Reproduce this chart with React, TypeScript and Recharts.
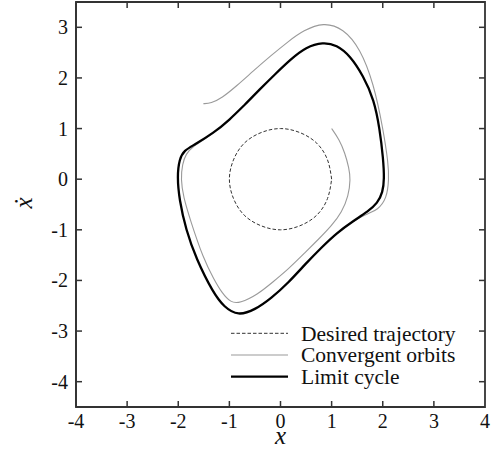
import { Label, Legend, Line, LineChart, XAxis, YAxis } from "recharts";

// phase-plane samples (x, x-dot)
const desiredTrajectory = [
  { x: 1.0, v: 0.0 },
  { x: 0.92, v: 0.38 },
  { x: 0.71, v: 0.71 },
  { x: 0.38, v: 0.92 },
  { x: 0.0, v: 1.0 },
  { x: -0.38, v: 0.92 },
  { x: -0.71, v: 0.71 },
  { x: -0.92, v: 0.38 },
  { x: -1.0, v: 0.0 },
  { x: -0.92, v: -0.38 },
  { x: -0.71, v: -0.71 },
  { x: -0.38, v: -0.92 },
  { x: 0.0, v: -1.0 },
  { x: 0.38, v: -0.92 },
  { x: 0.71, v: -0.71 },
  { x: 0.92, v: -0.38 },
  { x: 1.0, v: 0.0 },
];

const outerOrbit = [
  { x: -1.51, v: 1.49 },
  { x: -1.36, v: 1.5 },
  { x: -1.15, v: 1.6 },
  { x: -0.86, v: 1.84 },
  { x: -0.53, v: 2.14 },
  { x: -0.2, v: 2.43 },
  { x: 0.15, v: 2.72 },
  { x: 0.45, v: 2.94 },
  { x: 0.84, v: 3.1 },
  { x: 1.23, v: 2.98 },
  { x: 1.56, v: 2.58 },
  { x: 1.82, v: 1.9 },
  { x: 2.01, v: 0.98 },
  { x: 2.11, v: 0.3 },
  { x: 2.12, v: 0.0 },
  { x: 2.08, v: -0.38 },
  { x: 1.9, v: -0.61 },
  { x: 1.7, v: -0.68 },
  { x: 1.43, v: -0.83 },
];

const innerOrbit = [
  { x: 1.0, v: 1.0 },
  { x: 1.15, v: 0.78 },
  { x: 1.26, v: 0.52 },
  { x: 1.34, v: 0.22 },
  { x: 1.37, v: 0.0 },
  { x: 1.33, v: -0.33 },
  { x: 1.2, v: -0.65 },
  { x: 1.0, v: -0.92 },
  { x: 0.75, v: -1.18 },
  { x: 0.48, v: -1.45 },
  { x: 0.15, v: -1.78 },
  { x: -0.15, v: -2.03 },
  { x: -0.45, v: -2.28 },
  { x: -0.8, v: -2.45 },
  { x: -0.97, v: -2.44 },
  { x: -1.15, v: -2.24 },
  { x: -1.3, v: -1.98 },
  { x: -1.51, v: -1.57 },
  { x: -1.77, v: -0.79 },
  { x: -1.9, v: -0.35 },
  { x: -1.95, v: 0.0 },
  { x: -1.92, v: 0.3 },
  { x: -1.85, v: 0.5 },
  { x: -1.72, v: 0.64 },
  { x: -1.5, v: 0.78 },
  { x: -1.31, v: 0.92 },
];

const limitCycle = [
  { x: -0.7, v: 1.47 },
  { x: -0.4, v: 1.78 },
  { x: -0.1, v: 2.08 },
  { x: 0.2, v: 2.37 },
  { x: 0.5, v: 2.61 },
  { x: 0.83, v: 2.71 },
  { x: 1.1, v: 2.65 },
  { x: 1.36, v: 2.44 },
  { x: 1.62, v: 2.04 },
  { x: 1.83, v: 1.57 },
  { x: 1.94, v: 1.0 },
  { x: 2.01, v: 0.4 },
  { x: 2.03, v: 0.0 },
  { x: 2.0, v: -0.26 },
  { x: 1.9, v: -0.47 },
  { x: 1.71, v: -0.64 },
  { x: 1.43, v: -0.82 },
  { x: 1.1, v: -1.06 },
  { x: 0.8, v: -1.35 },
  { x: 0.5, v: -1.66 },
  { x: 0.15, v: -2.05 },
  { x: -0.18, v: -2.35 },
  { x: -0.5, v: -2.58 },
  { x: -0.83, v: -2.7 },
  { x: -1.1, v: -2.53 },
  { x: -1.32, v: -2.24 },
  { x: -1.65, v: -1.57 },
  { x: -1.85, v: -1.0 },
  { x: -1.98, v: -0.4 },
  { x: -2.02, v: 0.05 },
  { x: -1.98, v: 0.4 },
  { x: -1.88, v: 0.57 },
  { x: -1.7, v: 0.67 },
  { x: -1.3, v: 0.92 },
  { x: -1.0, v: 1.17 },
  { x: -0.7, v: 1.47 },
];

const X_DOMAIN: [number, number] = [-4, 4];
const Y_DOMAIN: [number, number] = [-4.5, 3.5];
const xTicks = [-4, -3, -2, -1, 0, 1, 2, 3, 4];
const yTicks = [-4, -3, -2, -1, 0, 1, 2, 3];
const innerXTicks = [-3, -2, -1, 0, 1, 2, 3];

const CHART_W = 494;
const CHART_H = 459;
const MARGIN = { top: 2, right: 9, bottom: 22, left: 16 };
const Y_AXIS_W = 60;
const X_AXIS_H = 30;
const PLOT_W = CHART_W - MARGIN.left - Y_AXIS_W - MARGIN.right;

const FONT = '"Liberation Serif", "Times New Roman", serif';
const FRAME = "#333";
const TICK_LEN = 6;

const legendRows = [
  { name: "Desired trajectory", stroke: "#333", width: 1, dash: "3.5 2" },
  { name: "Convergent orbits", stroke: "#9a9a9a", width: 1.1, dash: undefined },
  { name: "Limit cycle", stroke: "#000", width: 2.3, dash: undefined },
];

const BottomTick = (props: any) => {
  const { x, y, payload } = props;
  return (
    <text x={x} y={y} dy="0.74em" textAnchor="middle" fontSize={20} style={{ fontFamily: FONT }} fill="#111">
      {payload.value}
    </text>
  );
};

const LeftTick = (props: any) => {
  const { x, y, payload } = props;
  return (
    <text x={x} y={y} dy="0.35em" textAnchor="end" fontSize={20} style={{ fontFamily: FONT }} fill="#111">
      {payload.value}
    </text>
  );
};

const XTitle = (props: any) => {
  const vb = props.viewBox;
  return (
    <text
      x={vb.x + vb.width / 2}
      y={vb.y + 37}
      textAnchor="middle"
      fontSize={25}
      fontStyle="italic"
      style={{ fontFamily: FONT }}
      fill="#111"
    >
      x
    </text>
  );
};

// y-axis title plus the closed box and its inward ticks on all four sides
const YTitleAndFrame = (props: any) => {
  const vb = props.viewBox;
  const left = vb.x + vb.width;
  const top = vb.y;
  const h = vb.height;
  const right = left + PLOT_W;
  const bottom = top + h;
  const px = (t: number) => left + ((t - X_DOMAIN[0]) / (X_DOMAIN[1] - X_DOMAIN[0])) * PLOT_W;
  const py = (t: number) => bottom - ((t - Y_DOMAIN[0]) / (Y_DOMAIN[1] - Y_DOMAIN[0])) * h;
  const tx = vb.x + 16;
  const ty = top + h / 2 - 1.5;
  return (
    <g>
      <path
        d={`M${left},${top}H${right}V${bottom}H${left}Z`}
        fill="none"
        stroke={FRAME}
        strokeWidth={1.8}
      />
      {innerXTicks.map((t) => (
        <g key={`xt${t}`}>
          <path d={`M${px(t)},${bottom}v${-TICK_LEN}`} stroke={FRAME} strokeWidth={1.5} />
          <path d={`M${px(t)},${top}v${TICK_LEN}`} stroke={FRAME} strokeWidth={1.5} />
        </g>
      ))}
      {yTicks.map((t) => (
        <g key={`yt${t}`}>
          <path d={`M${left},${py(t)}h${TICK_LEN}`} stroke={FRAME} strokeWidth={1.5} />
          <path d={`M${right},${py(t)}h${-TICK_LEN}`} stroke={FRAME} strokeWidth={1.5} />
        </g>
      ))}
      <text
        x={tx}
        y={ty}
        transform={`rotate(-90, ${tx}, ${ty})`}
        textAnchor="middle"
        fontSize={25}
        fontStyle="italic"
        style={{ fontFamily: FONT }}
        fill="#111"
      >
        {"x\u0307"}
      </text>
    </g>
  );
};

const PhaseLegend = () => (
  <svg width={250} height={70} style={{ display: "block" }}>
    {legendRows.map((row, i) => {
      const cy = 13.3 + i * 21.7;
      return (
        <g key={row.name}>
          <line
            x1={0}
            x2={57}
            y1={cy}
            y2={cy}
            stroke={row.stroke}
            strokeWidth={row.width}
            strokeDasharray={row.dash}
          />
          <text x={70} y={cy + 7.4} fontSize={21.5} style={{ fontFamily: FONT }} fill="#111">
            {row.name}
          </text>
        </g>
      );
    })}
  </svg>
);

export default function App() {
  return (
    <div style={{ position: "absolute", left: 0, top: 0 }}>
      <LineChart width={CHART_W} height={CHART_H} margin={MARGIN}>
        <XAxis
          type="number"
          dataKey="x"
          domain={X_DOMAIN}
          ticks={xTicks}
          interval={0}
          height={X_AXIS_H}
          tickSize={0}
          tickMargin={6}
          tickLine={false}
          axisLine={{ stroke: FRAME, strokeWidth: 1.8 }}
          tick={<BottomTick />}
        >
          <Label content={<XTitle />} />
        </XAxis>
        <YAxis
          type="number"
          dataKey="v"
          domain={Y_DOMAIN}
          ticks={yTicks}
          interval={0}
          width={Y_AXIS_W}
          tickSize={0}
          tickMargin={8}
          tickLine={false}
          axisLine={{ stroke: FRAME, strokeWidth: 1.8 }}
          tick={<LeftTick />}
        >
          <Label content={<YTitleAndFrame />} />
        </YAxis>
        <Legend
          layout="horizontal"
          verticalAlign="middle"
          align="center"
          content={<PhaseLegend />}
          wrapperStyle={{ left: 231, top: 320, width: 250, height: 70 }}
        />
        <Line
          data={desiredTrajectory}
          dataKey="v"
          name="Desired trajectory"
          type="natural"
          stroke="#333"
          strokeWidth={1}
          strokeDasharray="3.5 2"
          dot={false}
          activeDot={false}
          isAnimationActive={false}
        />
        <Line
          data={outerOrbit}
          dataKey="v"
          name="Convergent orbits"
          type="basis"
          stroke="#9a9a9a"
          strokeWidth={1.1}
          dot={false}
          activeDot={false}
          isAnimationActive={false}
        />
        <Line
          data={innerOrbit}
          dataKey="v"
          name="Convergent orbits (inner)"
          legendType="none"
          type="basis"
          stroke="#9a9a9a"
          strokeWidth={1.1}
          dot={false}
          activeDot={false}
          isAnimationActive={false}
        />
        <Line
          data={limitCycle}
          dataKey="v"
          name="Limit cycle"
          type="basis"
          stroke="#000"
          strokeWidth={2.3}
          dot={false}
          activeDot={false}
          isAnimationActive={false}
        />
      </LineChart>
    </div>
  );
}
